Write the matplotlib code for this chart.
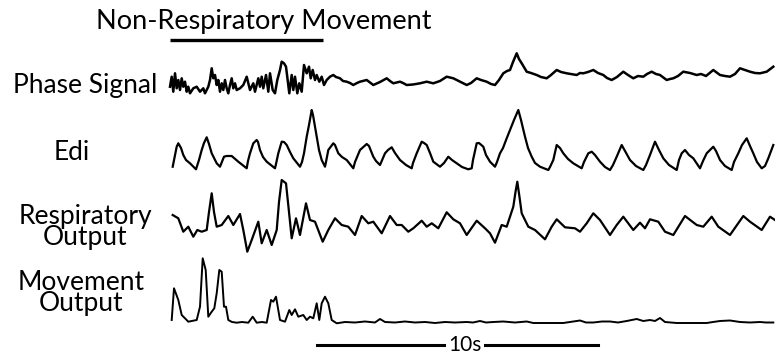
import numpy as np
import matplotlib
matplotlib.use("Agg")
import matplotlib.pyplot as plt

plt.rcParams['font.family'] = ['Lato', 'DejaVu Sans']
plt.rcParams['lines.solid_joinstyle'] = 'round'

# sampling rate of the traces (samples per second)
fs = 28.1

# ---- Phase signal (sample index, amplitude) ----
phase_idx = [0, 1.7, 3.3, 5, 6.7, 8.3, 10, 11.7, 13.3, 15, 16.7, 18.3, 20, 23.3, 26.7, 30, 33.3, 35,
             38.3, 40, 41.7, 43.3, 45, 46.7, 48.3, 50, 51.7, 53.3, 55, 56.7, 58.3, 60, 61.7, 63.3, 65,
             66.7, 70, 73.3, 76.7, 80, 83.3, 85, 88.3, 90, 91.7, 93.3, 96, 98.3, 100, 102.7, 105, 107.3,
             110, 111.7, 114, 116, 117.7, 119.3, 121.7, 123.3, 125, 127.3, 129.3, 131.7, 134, 136.7, 139,
             140.7, 142.7, 145, 146.7, 149.3, 151.7, 154, 156.7, 160, 163.3, 166, 170, 173, 176.7, 180,
             183.3, 187, 190, 196.7, 203.3, 210, 216.7, 220, 223.3, 230, 233, 236.7, 243, 250, 256.7,
             263.3, 270, 276.7, 283.3, 290, 296.7, 301, 306.7, 311, 316.7, 321, 325, 329, 333.3, 337, 340,
             343, 346.7, 349, 351.7, 356.7, 361, 366.7, 371, 376.7, 381, 386.7, 391, 396.7, 401, 406.7,
             410, 413.3, 418, 423.3, 428, 433.3, 437, 441.7, 447, 453.3, 458, 463.3, 468, 473.3, 477,
             481.7, 486, 490, 496.7, 500, 503.3, 508, 513.3, 520, 526.7, 531, 536, 543.3, 550, 555, 560,
             565, 570, 575, 580, 585, 590, 596.7, 603.3]
phase_val = [8.3, 18.3, 3.3, 21.7, 6.7, 15, 5, 16.7, 8.3, 13.3, 3.3, 8.3, 1.7, 6.7, 8.3, 3.3, 6.7, 1.7,
             8.3, 15, 26.7, 16.7, 20, 10, 15, 3.3, 11.7, 5, 15, 6.7, 1.7, 10, 16.7, 6.7, 11.7,
             5, 6.7, 10, 18.3, 5, 11.7, 3.3, 16.7, 8.3, 18.3, 6.7, 20, 3.3, 21.7, 5, 1.7, 15,
             25, 33.3, 31.7, 28.3, 15, 1.7, 20, 5, 18.3, 1.7, 11.7, 3.3, 30, 21.7, 28.3,
             16.7, 25, 15, 20, 13.3, 18.3, 10, 15, 18.3, 20, 18, 16.7, 14, 13.3, 12,
             10, 12, 13.3, 15, 10, 13, 16.7, 14, 11.7, 13.3, 12, 10, 10.5, 11.7, 13.3,
             11.7, 14, 18.3, 16.7, 13.3, 10, 12, 16.7, 15, 13.3, 11, 10, 15, 21.7, 24, 25,
             33, 41.7, 36, 31.7, 23.3, 22, 20, 18, 16.7, 20, 25, 23, 21.7, 21, 20,
             22, 21.7, 23, 25, 22, 20, 17, 15, 18, 23.3, 20, 16.7, 19, 18.3, 21,
             23.3, 21, 20, 15, 16, 16.7, 19, 23.3, 22, 20, 21, 19, 25, 20, 19, 18.3,
             21, 26.7, 25, 23.3, 22, 21.7, 23.3, 28.3]

# ---- Edi ----
edi_idx = [2.7, 6.7, 8.3, 11, 13.3, 16, 20, 26, 29, 31.7, 34, 36.7, 39, 41.7, 46.7, 50, 54, 56.7, 61.7,
           68.3, 76.7, 78, 80, 83.3, 86.7, 88, 90, 93, 96.7, 105, 106, 108.3, 111.7, 114, 116.7, 120,
           123.3, 130, 132, 134, 136.7, 139, 141.7, 143, 146.7, 149, 151.7, 155, 156, 158.3, 163.3,
           165, 168.3, 172, 176.7, 183.3, 185, 190, 196.7, 199, 203.3, 206, 210, 213, 215, 218, 221.7,
           225, 230, 236, 241.7, 243, 246.7, 251.7, 254, 256.7, 260, 263.3, 270, 274, 278.3, 282,
           286.7, 292, 298.3, 301.7, 303, 306.7, 309, 313.3, 316, 320, 325, 327, 330, 333, 336.7,
           340, 344, 348.3, 351, 355, 358, 361.7, 365, 370, 378.3, 380, 383.3, 386.7, 390, 393.3,
           398, 403.3, 411.7, 414, 418.3, 421.7, 425, 430, 435, 440, 443, 446.7, 451.7, 455, 460,
           466, 473.3, 476, 480, 485, 489, 493.3, 499, 506.7, 509, 511.7, 515, 519, 523.3, 530, 533,
           536.7, 543.3, 546, 550, 555, 561.7, 564, 568.3, 572, 576.7, 580, 583.3, 587, 591.7, 595,
           598.3, 603.3]
edi_val = [3.3, 23.3, 26.7, 22, 15, 10, 6.7, 0.7, 10, 20, 27, 32.7, 26, 16.7, 6.7, 3.3, 13.3, 14, 14,
           8.3, 1.7, 9, 16.7, 26.7, 30, 28, 20, 13, 8.3, 1.7, 6, 16.7, 28.3, 28, 25, 18,
           11.7, 3.3, 8, 16.7, 33.3, 45, 60, 55, 33.3, 20, 10, 3.3, 8, 20, 26.7,
           25, 16.7, 13, 10, 1.7, 8, 20, 26, 24, 13.3, 9, 5, 12, 16.7, 20, 22.7,
           17, 10, 5, 1.7, 7, 16.7, 28.3, 27, 25, 17, 8.3, 3.3, 7, 13.3, 10,
           6.7, 3, 0.7, 1.7, 10, 26.7, 27, 23.3, 15, 8.3, 3.3, 8, 16.7, 22, 31.7,
           40, 50, 60, 50, 33.3, 22, 13.3, 7, 3.3, 0, 3, 10, 25, 22, 16.7,
           11, 6.7, 1.7, 8, 16.7, 18.3, 15, 8.3, 3, 0, 5, 13.3, 25, 19, 10,
           4, 0, 5, 15, 28.3, 20, 11.7, 5, 0, 10, 16.7, 20, 15, 11.7, 1.7, 9,
           16.7, 23.3, 19, 10, 4, 0, 8, 16.7, 25, 31.7, 24, 16.7, 8, 1.7, 4,
           11.7, 25]

# ---- Respiratory output ----
resp_idx = [2.7, 8.3, 13.3, 18.3, 23.3, 27.3, 31.7, 36.7, 39, 41.7, 44, 46.7, 51.7, 58.3, 63.3, 70,
            73.3, 77.3, 81.7, 88.3, 91.7, 96.7, 101.7, 106.7, 109, 111.7, 116, 119, 121.7, 126, 130,
            136, 140, 145, 152.7, 158.3, 165, 171.7, 178.3, 185, 191.7, 198.3, 203.3, 211.7, 220,
            226.7, 231.7, 238.3, 243.3, 251.7, 256.7, 261.7, 268.3, 276.7, 283.3, 290, 296.7, 306.7,
            315, 320, 325, 331.7, 336.7, 343.3, 345.5, 347.3, 349.5, 351.7, 358.3, 365, 375, 381.7,
            386.7, 395, 405, 410, 416.7, 423.3, 430, 440, 446.7, 453.3, 463.3, 470, 475, 480, 488.3,
            495, 503.3, 515, 526.7, 533.3, 541.7, 548.3, 560, 573.3, 580, 591.7, 600, 605]
resp_val = [37, 33.7, 20.3, 25.3, 15.3, 22, 20.3, 22, 40, 58.7, 40, 25.3, 27, 36, 27, 38,
            22, 0.3, 12, 30.3, 8.7, 22, 7, 22, 50, 72, 68.7, 40, 13.7, 33.7, 17,
            48.7, 32, 30.3, 10.3, 22, 33.7, 27, 25.3, 17, 36, 28.7, 30.3, 18.7, 36,
            27, 27, 20.3, 23.7, 31.3, 25.3, 28.7, 23.7, 39.7, 32.7, 28.7, 17, 31.3,
            23.7, 18.7, 9.3, 27, 25.3, 45.3, 60, 70.3, 55, 38.7, 25.3, 22, 12.7, 25.3,
            32.7, 24.7, 23.7, 20.3, 28.7, 38.7, 32, 17, 27, 35.3, 22, 29.3, 23.7, 32.7,
            30.3, 20.3, 17, 36, 27, 25.3, 35.3, 25.3, 17, 36, 30.3, 22, 35.3, 32]

# ---- Movement output ----
move_idx = [1.7, 4, 8.3, 11.7, 15, 18.3, 26.7, 30, 32.7, 35.7, 38.3, 41.7, 44.3, 46.7, 49.3, 51.7, 54,
            56, 58.3, 62, 66.7, 72, 78.3, 82.7, 86.7, 92, 96.7, 101, 103.3, 106, 110, 115, 119.3,
            121.7, 125, 128.3, 133.3, 136.7, 140, 143.3, 146.7, 149.3, 151.7, 155, 158.3, 161.7,
            166.7, 175, 185, 195, 205, 210, 215, 225, 235, 245, 255, 265, 275, 285, 296.7, 303, 310,
            316, 323.3, 333.3, 345, 356.7, 363.3, 393.3, 403.3, 410, 416, 423.3, 432, 440, 448, 456.7,
            466.7, 473.3, 480, 485, 490, 495, 506.7, 520, 536.7, 543, 550, 560, 570, 580, 590, 596,
            603.3]
move_val = [3, 34.7, 23, 8, 4.7, 1.3, 3, 16.3, 64.7, 53, 6.3, 11.3, 14.7, 29.7, 53, 51.3, 16.3,
            16.3, 3, 1, 0.3, 1, 0.3, 6.3, 0.3, 1, 0.3, 23, 21.3, 26.3, 3, 1.3, 13,
            8, 13.7, 6.3, 8, 3, 6.3, 4.7, 19.7, 3, 19.7, 26.3, 19.7, 3,
            -0.3, 1, 0.5, 1.5, 0.5, 4, 1, 0.5, 1.5, 0.5, 1, 0, 1, 0.5, 1, 0.5, 2,
            0.5, 1, 1.5, 0.5, 1.5, 0, 0, 1.5, 2.5, 0.5, 0.5, 1.5, 1.5, 0.5, 2,
            4, 2, 3, 2, 5, 1, 0, 0, 0, 1, 2, 2.5, 1, 0.5, 1, 0.5,
            0.5]

labels = ["Phase Signal", "Edi", "Respiratory\nOutput", "Movement\nOutput"]
title = "Non-Respiratory Movement"
movement_window = (0, 5.44)   # seconds
scale_len = 10                # seconds

W, H = 775, 362
fig = plt.figure(figsize=(W / 100, H / 100), dpi=100)


def trace_axes(base_px, span_px):
    # axes whose y unit is one pixel, bottom edge on the trace baseline
    ax = fig.add_axes([170 / W, 1 - base_px / H, 605 / W, span_px / H])
    ax.set_xlim(0, 605 / fs)
    ax.set_ylim(0, span_px)
    ax.axis('off')
    return ax


ax0 = trace_axes(95, 45)
ax0.plot(np.array(phase_idx) / fs, phase_val, color='black', lw=1.8, clip_on=False)
ax0.plot(movement_window, [55, 55], color='black', lw=2.4, clip_on=False, solid_capstyle='butt')

ax1 = trace_axes(170, 62)
ax1.plot(np.array(edi_idx) / fs, edi_val, color='black', lw=1.6, clip_on=False)

ax2 = trace_axes(252, 75)
ax2.plot(np.array(resp_idx) / fs, resp_val, color='black', lw=1.6, clip_on=False)

ax3 = trace_axes(323, 68)
ax3.plot(np.array(move_idx) / fs, move_val, color='black', lw=1.4, clip_on=False)
ax3.plot([5.23, 5.23 + scale_len], [-22, -22], color='black', lw=2.2, clip_on=False)
ax3.text(10.5, -22, "%ds" % scale_len, ha='center', va='center', fontsize=15,
         bbox=dict(facecolor='white', edgecolor='none', pad=2))

fig.text(264 / W, 1 - 22 / H, title, ha='center', va='center', fontsize=19.5)

fig.text(85 / W, 1 - 85 / H, labels[0], ha='center', va='center', fontsize=19)
fig.text(72 / W, 1 - 153 / H, labels[1], ha='center', va='center', fontsize=19)
fig.text(85 / W, 1 - 227 / H, labels[2], ha='center', va='center', fontsize=19, linespacing=0.8)
fig.text(81 / W, 1 - 293 / H, labels[3], ha='center', va='center', fontsize=19, linespacing=0.8)

fig.savefig("out.png", dpi=100, facecolor='white')
